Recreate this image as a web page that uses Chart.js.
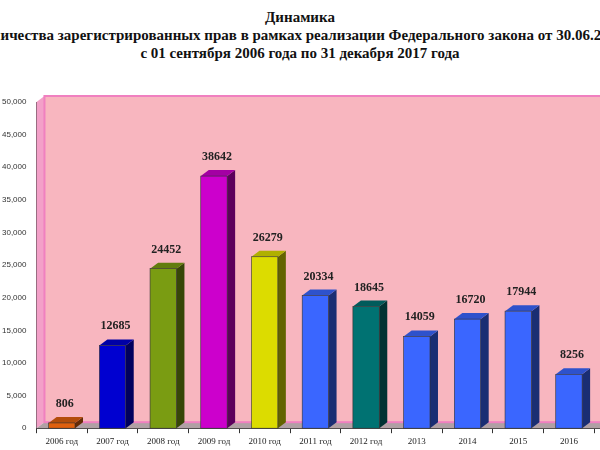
<!DOCTYPE html>
<html><head><meta charset="utf-8">
<script src="https://cdn.jsdelivr.net/npm/chart.js@4"></script>
<style>
body{margin:0;width:600px;height:450px;overflow:hidden;background:#fff;position:relative;font-family:"Liberation Serif",serif}
.t{position:absolute;left:-200px;width:1000px;text-align:center;font-weight:bold;font-size:15px;white-space:nowrap;color:#111}
#wrap{position:absolute;left:0;top:88px;width:645px;height:362px}
</style></head><body>
<div class="t" style="top:9px">Динамика</div>
<div class="t" style="top:27px">количества зарегистрированных прав в рамках реализации Федерального закона от 30.06.2006</div>
<div class="t" style="top:45px">с 01 сентября 2006 года по 31 декабря 2017 года</div>
<div id="wrap"><canvas id="c"></canvas></div>
<script>
// ---- data ----
const categories = ["2006 год","2007 год","2008 год","2009 год","2010 год","2011 год","2012 год","2013","2014","2015","2016","2017"];
const values = [806,12685,24452,38642,26279,20334,18645,14059,16720,17944,8256,null];
const barColors = ["#e0600e","#0000d0","#7a9c12","#cc00cc","#dcdc00","#3a66ff","#007272","#3a66ff","#3a66ff","#3a66ff","#3a66ff","#3a66ff"];

function shade(hex, f) {
  const n = parseInt(hex.slice(1), 16);
  const r = Math.round(((n >> 16) & 255) * f), g = Math.round(((n >> 8) & 255) * f), b = Math.round((n & 255) * f);
  return "rgb(" + r + "," + g + "," + b + ")";
}

const DX = 8, DY = 6;

// pink 3D backdrop + side/top faces + value labels
const threeD = {
  id: "threeD",
  beforeDatasetsDraw(chart) {
    const { ctx, chartArea: a } = chart;
    ctx.save();
    ctx.fillStyle = "#f8b6bf";
    ctx.fillRect(a.left + DX, a.top - DY, a.right - a.left, a.bottom - a.top);
    ctx.fillStyle = "#f3a0c8";
    ctx.beginPath();
    ctx.moveTo(a.left, a.top); ctx.lineTo(a.left + DX, a.top - DY);
    ctx.lineTo(a.left + DX, a.bottom - DY); ctx.lineTo(a.left, a.bottom); ctx.closePath(); ctx.fill();
    ctx.fillStyle = "#b0a0a4";
    ctx.beginPath();
    ctx.moveTo(a.left, a.bottom); ctx.lineTo(a.left + DX, a.bottom - DY);
    ctx.lineTo(a.right + DX, a.bottom - DY); ctx.lineTo(a.right, a.bottom); ctx.closePath(); ctx.fill();
    ctx.strokeStyle = "#f080c0"; ctx.lineWidth = 2;
    ctx.strokeRect(a.left + DX, a.top - DY, a.right - a.left, a.bottom - a.top);
    ctx.restore();
  },
  afterDatasetsDraw(chart) {
    const { ctx } = chart;
    const meta = chart.getDatasetMeta(0);
    ctx.save();
    meta.data.forEach((bar, i) => {
      if (values[i] == null) return;
      const w = bar.width, l = bar.x - w / 2, r = bar.x + w / 2, top = bar.y, bot = bar.base;
      ctx.fillStyle = shade(barColors[i], 0.45);
      ctx.beginPath();
      ctx.moveTo(r, top); ctx.lineTo(r + DX, top - DY); ctx.lineTo(r + DX, bot - DY); ctx.lineTo(r, bot); ctx.closePath(); ctx.fill();
      ctx.fillStyle = shade(barColors[i], 0.8);
      ctx.beginPath();
      ctx.moveTo(l, top); ctx.lineTo(l + DX, top - DY); ctx.lineTo(r + DX, top - DY); ctx.lineTo(r, top); ctx.closePath(); ctx.fill();
      ctx.strokeStyle = "#333"; ctx.lineWidth = 0.6;
      ctx.strokeRect(l, top, w, bot - top);
      ctx.fillStyle = "#222";
      ctx.font = "bold 12px 'Liberation Serif', serif";
      ctx.textAlign = "center";
      ctx.fillText(String(values[i]), bar.x + 3, top - 16);
    });
    ctx.restore();
  }
};

new Chart(document.getElementById("c"), {
  type: "bar",
  data: {
    labels: categories,
    datasets: [{ data: values, backgroundColor: barColors, barPercentage: 0.52, categoryPercentage: 1 }]
  },
  options: {
    responsive: true,
    maintainAspectRatio: false,
    animation: false,
    layout: { padding: { top: 14, right: 0, left: 0, bottom: 0 } },
    plugins: { legend: { display: false }, tooltip: { enabled: false } },
    scales: {
      y: {
        min: 0, max: 50000,
        ticks: { stepSize: 5000, color: "#333", font: { size: 8, family: "Liberation Sans" }, padding: 2 },
        grid: { display: false },
        border: { color: "#333" }
      },
      x: {
        ticks: { color: "#222", font: { size: 9, family: "Liberation Serif" }, maxRotation: 0, autoSkip: false },
        grid: { display: true, drawOnChartArea: false, offset: true, tickLength: 5, color: "#333" },
        border: { color: "#333" }
      }
    }
  },
  plugins: [threeD]
});
</script>
</body></html>
